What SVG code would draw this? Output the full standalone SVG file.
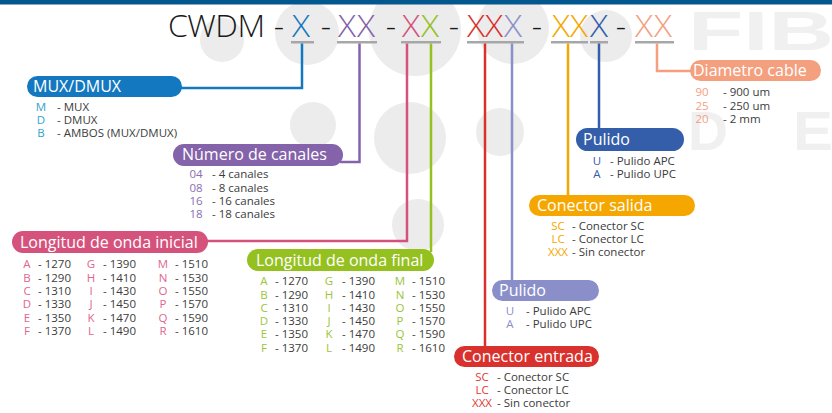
<svg xmlns="http://www.w3.org/2000/svg" width="832" height="413" viewBox="0 0 832 413">
<style>
text{font-family:"Open Sans","DejaVu Sans",sans-serif}
.hd{font-size:32px;font-weight:300}
.pl{font-size:16px;fill:#fff}
.it{font-size:11.5px;fill:#3c3c3c}
.k{font-size:11.5px;text-anchor:middle}
.ul{fill:#a7a7a7}
.bg{fill:#ececec}
.wm{font-family:"Liberation Sans",Arial,sans-serif;font-weight:bold;font-size:56px;fill:#f0f0f0}
.cn{fill:none;stroke-width:2.5}
</style>
<rect width="832" height="413" fill="#fff"/>
<g id="background">
<circle class="bg" cx="222" cy="40" r="22"/>
<circle class="bg" cx="307" cy="33" r="32"/>
<circle class="bg" cx="415" cy="30" r="46"/>
<circle class="bg" cx="513" cy="28" r="36"/>
<circle class="bg" cx="606" cy="36" r="26"/>
<circle class="bg" cx="313" cy="125" r="23"/>
<circle class="bg" cx="410" cy="138" r="36"/>
<circle class="bg" cx="418" cy="225" r="26"/>
<circle class="bg" cx="500" cy="132" r="24"/>
<text class="wm" x="688" y="50" textLength="146" lengthAdjust="spacingAndGlyphs">FIB</text>
<text class="wm" x="688" y="150" textLength="40" lengthAdjust="spacingAndGlyphs">D</text>
<text class="wm" x="793" y="150" textLength="40" lengthAdjust="spacingAndGlyphs">E</text>
</g>
<rect x="0" y="0" width="832" height="4.5" fill="#02578f"/>
<g id="code">
<text class="hd" x="168" y="37" fill="#1a1a1a" textLength="97">CWDM</text>
<g class="hd" fill="#1a1a1a" text-anchor="middle">
<text x="279" y="37">-</text><text x="326" y="37">-</text><text x="391" y="37">-</text>
<text x="454" y="37">-</text><text x="537" y="37">-</text><text x="621" y="37">-</text>
</g>
<g class="hd" text-anchor="middle">
<text x="301" y="37" fill="#1478c0" textLength="18" lengthAdjust="spacingAndGlyphs">X</text>
<text x="347" y="37" fill="#8463aa" textLength="18" lengthAdjust="spacingAndGlyphs">X</text><text x="366" y="37" fill="#8463aa" textLength="18" lengthAdjust="spacingAndGlyphs">X</text>
<text x="411" y="37" fill="#d5527d" textLength="18" lengthAdjust="spacingAndGlyphs">X</text><text x="430" y="37" fill="#94c11f" textLength="18" lengthAdjust="spacingAndGlyphs">X</text>
<text x="476" y="37" fill="#d9322e" textLength="18" lengthAdjust="spacingAndGlyphs">X</text><text x="494" y="37" fill="#d9322e" textLength="18" lengthAdjust="spacingAndGlyphs">X</text><text x="513" y="37" fill="#8b8fc9" textLength="18" lengthAdjust="spacingAndGlyphs">X</text>
<text x="561" y="37" fill="#f5a700" textLength="18" lengthAdjust="spacingAndGlyphs">X</text><text x="579" y="37" fill="#f5a700" textLength="18" lengthAdjust="spacingAndGlyphs">X</text><text x="599" y="37" fill="#345ea9" textLength="18" lengthAdjust="spacingAndGlyphs">X</text>
<text x="644" y="37" fill="#f4a07f" textLength="18" lengthAdjust="spacingAndGlyphs">X</text><text x="663" y="37" fill="#f4a07f" textLength="18" lengthAdjust="spacingAndGlyphs">X</text>
</g>
<rect class="ul" x="291" y="41" width="23" height="2.5"/>
<rect class="ul" x="337" y="41" width="40" height="2.5"/>
<rect class="ul" x="401" y="41" width="40" height="2.5"/>
<rect class="ul" x="467" y="41" width="57" height="2.5"/>
<rect class="ul" x="551" y="41" width="37" height="2.5"/>
<rect class="ul" x="590" y="41" width="18" height="2.5"/>
<rect class="ul" x="635" y="41" width="39" height="2.5"/>
</g>
<g id="connectors">
<polyline class="cn" stroke="#1478c0" points="302,43.5 302,88 180,88"/>
<polyline class="cn" stroke="#8463aa" points="359.5,43.5 359.5,162 340,162"/>
<polyline class="cn" stroke="#d5527d" points="407,43.5 407,241 205,241"/>
<polyline class="cn" stroke="#94c11f" points="431,43.5 431,252"/>
<polyline class="cn" stroke="#d9322e" points="485,43.5 485,348"/>
<polyline class="cn" stroke="#8b8fc9" points="512,43.5 512,282"/>
<polyline class="cn" stroke="#f5a700" points="568,43.5 568,197"/>
<polyline class="cn" stroke="#345ea9" points="599,43.5 599,130"/>
<polyline class="cn" stroke="#f4a07f" points="657,43.5 657,71 693,71"/>
</g>
<g id="mux">
<rect x="27" y="76" width="155" height="21" rx="10.5" fill="#1478c0"/>
<text class="pl" x="33" y="92">MUX/DMUX</text>
<g class="k" fill="#2fa3cc"><text x="41" y="111">M</text><text x="41" y="124">D</text><text x="41" y="137">B</text></g>
<text class="it" x="57" y="111">- MUX</text>
<text class="it" x="57" y="124">- DMUX</text>
<text class="it" x="57" y="137">- AMBOS (MUX/DMUX)</text>
</g>
<g id="canales">
<rect x="173" y="144" width="170" height="22" rx="11" fill="#8463aa"/>
<text class="pl" x="182" y="160">Número de canales</text>
<g class="k" fill="#8b6db3"><text x="196" y="178">04</text><text x="196" y="191.5">08</text><text x="196" y="205">16</text><text x="196" y="218">18</text></g>
<text class="it" x="212" y="178">- 4 canales</text>
<text class="it" x="212" y="191.5">- 8 canales</text>
<text class="it" x="212" y="205">- 16 canales</text>
<text class="it" x="212" y="218">- 18 canales</text>
</g>
<g id="inicial">
<rect x="12" y="231" width="196" height="22" rx="11" fill="#d5527d"/>
<text class="pl" x="20" y="247.5">Longitud de onda inicial</text>
<g class="k" fill="#e0678e">
<text x="27" y="268">A</text><text x="27" y="281.5">B</text><text x="27" y="295">C</text><text x="27" y="308">D</text><text x="27" y="321.5">E</text><text x="27" y="335">F</text>
<text x="91" y="268">G</text><text x="91" y="281.5">H</text><text x="91" y="295">I</text><text x="91" y="308">J</text><text x="91" y="321.5">K</text><text x="91" y="335">L</text>
<text x="163" y="268">M</text><text x="163" y="281.5">N</text><text x="163" y="295">O</text><text x="163" y="308">P</text><text x="163" y="321.5">Q</text><text x="163" y="335">R</text>
</g>
<g class="it">
<text x="38" y="268">- 1270</text><text x="38" y="281.5">- 1290</text><text x="38" y="295">- 1310</text><text x="38" y="308">- 1330</text><text x="38" y="321.5">- 1350</text><text x="38" y="335">- 1370</text>
<text x="103" y="268">- 1390</text><text x="103" y="281.5">- 1410</text><text x="103" y="295">- 1430</text><text x="103" y="308">- 1450</text><text x="103" y="321.5">- 1470</text><text x="103" y="335">- 1490</text>
<text x="175" y="268">- 1510</text><text x="175" y="281.5">- 1530</text><text x="175" y="295">- 1550</text><text x="175" y="308">- 1570</text><text x="175" y="321.5">- 1590</text><text x="175" y="335">- 1610</text>
</g>
</g>
<g id="final">
<rect x="247" y="249" width="187" height="22" rx="11" fill="#94c11f"/>
<text class="pl" x="256" y="265.5">Longitud de onda final</text>
<g class="k" fill="#9cc43a">
<text x="264" y="285">A</text><text x="264" y="298.5">B</text><text x="264" y="311.5">C</text><text x="264" y="325">D</text><text x="264" y="338">E</text><text x="264" y="351.5">F</text>
<text x="329" y="285">G</text><text x="329" y="298.5">H</text><text x="329" y="311.5">I</text><text x="329" y="325">J</text><text x="329" y="338">K</text><text x="329" y="351.5">L</text>
<text x="400" y="285">M</text><text x="400" y="298.5">N</text><text x="400" y="311.5">O</text><text x="400" y="325">P</text><text x="400" y="338">Q</text><text x="400" y="351.5">R</text>
</g>
<g class="it">
<text x="275" y="285">- 1270</text><text x="275" y="298.5">- 1290</text><text x="275" y="311.5">- 1310</text><text x="275" y="325">- 1330</text><text x="275" y="338">- 1350</text><text x="275" y="351.5">- 1370</text>
<text x="342" y="285">- 1390</text><text x="342" y="298.5">- 1410</text><text x="342" y="311.5">- 1430</text><text x="342" y="325">- 1450</text><text x="342" y="338">- 1470</text><text x="342" y="351.5">- 1490</text>
<text x="412" y="285">- 1510</text><text x="412" y="298.5">- 1530</text><text x="412" y="311.5">- 1550</text><text x="412" y="325">- 1570</text><text x="412" y="338">- 1590</text><text x="412" y="351.5">- 1610</text>
</g>
</g>
<g id="conector-entrada">
<rect x="454" y="346" width="145" height="21" rx="10.5" fill="#d9322e"/>
<text class="pl" x="462" y="362">Conector entrada</text>
<g class="k" fill="#e03a33"><text x="482" y="381">SC</text><text x="482" y="394">LC</text><text x="482" y="407">XXX</text></g>
<text class="it" x="497" y="381">- Conector SC</text>
<text class="it" x="497" y="394">- Conector LC</text>
<text class="it" x="497" y="407">- Sin conector</text>
</g>
<g id="pulido-entrada">
<rect x="492" y="280" width="107" height="21" rx="10.5" fill="#8b8fc9"/>
<text class="pl" x="499" y="296">Pulido</text>
<g class="k" fill="#8b8fc9"><text x="510" y="315">U</text><text x="510" y="328">A</text></g>
<text class="it" x="526" y="315">- Pulido APC</text>
<text class="it" x="526" y="328">- Pulido UPC</text>
</g>
<g id="conector-salida">
<rect x="529" y="195" width="166" height="21" rx="10.5" fill="#f5a700"/>
<text class="pl" x="537" y="211">Conector salida</text>
<g class="k" fill="#f5a700"><text x="558" y="230">SC</text><text x="558" y="243">LC</text><text x="558" y="256">XXX</text></g>
<text class="it" x="572" y="230">- Conector SC</text>
<text class="it" x="572" y="243">- Conector LC</text>
<text class="it" x="572" y="256">- Sin conector</text>
</g>
<g id="pulido-salida">
<rect x="576" y="128" width="108" height="23" rx="11.5" fill="#345ea9"/>
<text class="pl" x="583" y="145">Pulido</text>
<g class="k" fill="#345ea9"><text x="597" y="165">U</text><text x="597" y="178">A</text></g>
<text class="it" x="610" y="165">- Pulido APC</text>
<text class="it" x="610" y="178">- Pulido UPC</text>
</g>
<g id="diametro">
<rect x="690" y="60" width="131" height="21" rx="10.5" fill="#f4a07f"/>
<text class="pl" x="693" y="76">Diametro cable</text>
<g class="k" fill="#f4a07f"><text x="702" y="96">90</text><text x="702" y="109.5">25</text><text x="702" y="122.5">20</text></g>
<text class="it" x="723" y="96">- 900 um</text>
<text class="it" x="723" y="109.5">- 250 um</text>
<text class="it" x="723" y="122.5">- 2 mm</text>
</g>
</svg>
